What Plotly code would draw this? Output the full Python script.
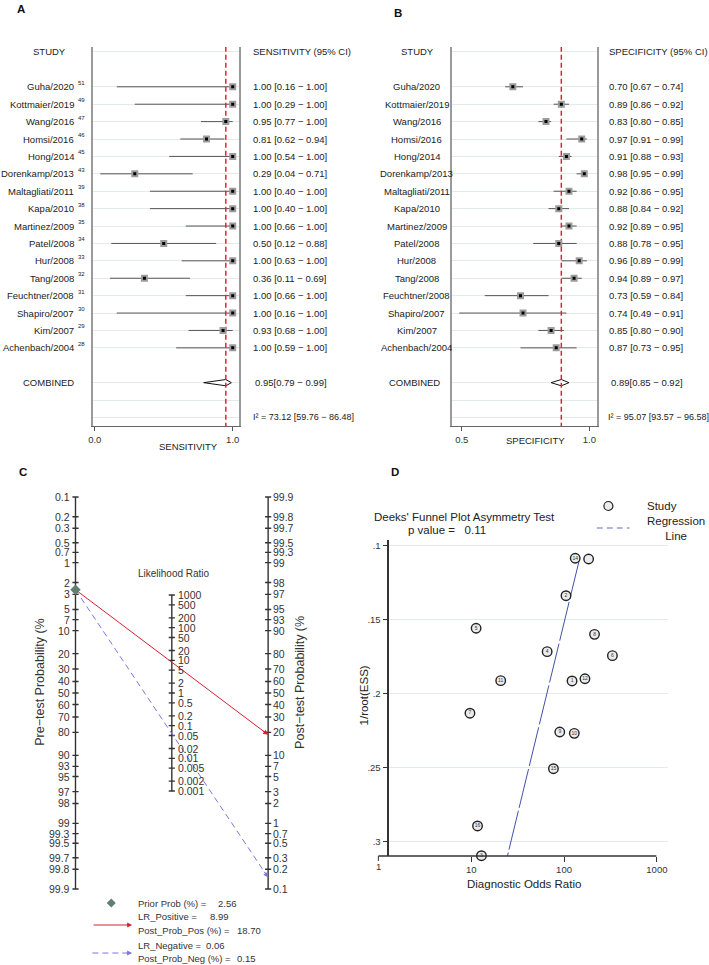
import math
import plotly.graph_objects as go

W, H = 709, 965
FONT = "Liberation Sans, Arial, Helvetica, sans-serif"

# ---------------- data ----------------
studies = ["Guha/2020", "Kottmaier/2019", "Wang/2016", "Homsi/2016", "Hong/2014",
           "Dorenkamp/2013", "Maltagliati/2011", "Kapa/2010", "Martinez/2009", "Patel/2008",
           "Hur/2008", "Tang/2008", "Feuchtner/2008", "Shapiro/2007", "Kim/2007", "Achenbach/2004"]
refs = ["51", "49", "47", "46", "45", "43", "39", "38", "35", "34", "33", "32", "31", "30", "29", "28"]

sens = [1.00, 1.00, 0.95, 0.81, 1.00, 0.29, 1.00, 1.00, 1.00, 0.50, 1.00, 0.36, 1.00, 1.00, 0.93, 1.00]
sens_lo = [0.16, 0.29, 0.77, 0.62, 0.54, 0.04, 0.40, 0.40, 0.66, 0.12, 0.63, 0.11, 0.66, 0.16, 0.68, 0.59]
sens_hi = [1.00, 1.00, 1.00, 0.94, 1.00, 0.71, 1.00, 1.00, 1.00, 0.88, 1.00, 0.69, 1.00, 1.00, 1.00, 1.00]

spec = [0.70, 0.89, 0.83, 0.97, 0.91, 0.98, 0.92, 0.88, 0.92, 0.88, 0.96, 0.94, 0.73, 0.74, 0.85, 0.87]
spec_lo = [0.67, 0.86, 0.80, 0.91, 0.88, 0.95, 0.86, 0.84, 0.89, 0.78, 0.89, 0.89, 0.59, 0.49, 0.80, 0.73]
spec_hi = [0.74, 0.92, 0.85, 0.99, 0.93, 0.99, 0.95, 0.92, 0.95, 0.95, 0.99, 0.97, 0.84, 0.91, 0.90, 0.95]

sens_pooled = [0.95, 0.79, 0.99]
spec_pooled = [0.89, 0.85, 0.92]
sens_i2 = [73.12, 59.76, 86.48]
spec_i2 = [95.07, 93.57, 96.58]

# Fagan nomogram
prior_prob = 2.56
lr_pos = 8.99
lr_neg = 0.06
post_pos = 18.70
post_neg = 0.15
prob_ticks = [0.1, 0.2, 0.3, 0.5, 0.7, 1, 2, 3, 5, 7, 10, 20, 30, 40, 50, 60, 70, 80,
              90, 93, 95, 97, 98, 99, 99.3, 99.5, 99.7, 99.8, 99.9]
lr_ticks = [1000, 500, 200, 100, 50, 20, 10, 5, 2, 1, 0.5, 0.2, 0.1, 0.05, 0.02, 0.01,
            0.005, 0.002, 0.001]

# Deeks funnel plot
deeks_labels = ["14", "", "2", "5", "8", "4", "6", "11", "1", "12", "7", "9", "10", "15", "16", "3"]
deeks_dor = [132, 184, 105, 11.3, 213, 65.8, 332, 20.8, 122, 168, 9.7, 90, 129, 76.9, 11.7, 12.9]
deeks_ess = [0.1083, 0.1088, 0.1336, 0.1556, 0.1597, 0.1714, 0.1741, 0.1910, 0.1912, 0.1897,
             0.2130, 0.2257, 0.2266, 0.2505, 0.2892, 0.3093]
reg_dor = [146, 24.6]
reg_ess = [0.1095, 0.3093]
deeks_p = 0.11
deeks_xticks = [10, 100, 1000]
deeks_yticks = [0.1, 0.15, 0.2, 0.25, 0.3]
deeks_yticktext = [".1", ".15", ".2", ".25", ".3"]


def X(p):
    return p / W


def Y(p):
    return 1 - p / H


fig = go.Figure()
annotations = []
shapes = []
FS = 9.5


def add_text(x, y, text, size=FS, xanchor="left", yanchor="middle", xref="paper", yref="paper",
             color="#222", angle=0, yshift=0):
    annotations.append(dict(x=x, y=y, xref=xref, yref=yref, text=text, showarrow=False,
                            xanchor=xanchor, yanchor=yanchor, textangle=angle, yshift=yshift,
                            font=dict(family=FONT, size=size, color=color)))


# ---------------- forest plots (A, B) ----------------
ROW0 = 2
COMB_ROW = 19
I2_ROW = 21
grid_rows = [0] + list(range(2, 18)) + [19, 20, 21]


def forest(xa, ya, est, lo, hi, pooled):
    rows = list(range(ROW0, ROW0 + len(est)))
    cx, cy = [], []
    for l, h, r in zip(lo, hi, rows):
        cx += [l, h, None]
        cy += [r, r, None]
    fig.add_trace(go.Scatter(x=cx, y=cy, mode="lines", line=dict(color="#555", width=1),
                             xaxis=xa, yaxis=ya, hoverinfo="skip"))
    e, l, h = pooled
    fig.add_trace(go.Scatter(x=[l, e, h, e, l], y=[COMB_ROW, COMB_ROW - 0.18, COMB_ROW, COMB_ROW + 0.18, COMB_ROW],
                             mode="lines", fill="toself", fillcolor="white",
                             line=dict(color="#111", width=1), xaxis=xa, yaxis=ya, hoverinfo="skip"))
    fig.add_trace(go.Scatter(x=[e, e], y=[-0.3, 21.5], mode="lines",
                             line=dict(color="#e3232c", width=1.5, dash="5px,3px"),
                             xaxis=xa, yaxis=ya, hoverinfo="skip"))
    fig.add_trace(go.Scatter(x=est, y=rows, mode="markers",
                             marker=dict(symbol="square", size=7, color="#9c9c9c"),
                             xaxis=xa, yaxis=ya, hoverinfo="skip"))
    fig.add_trace(go.Scatter(x=est, y=rows, mode="markers",
                             marker=dict(symbol="square", size=3, color="#000"),
                             xaxis=xa, yaxis=ya, hoverinfo="skip"))


forest("x", "y", sens, sens_lo, sens_hi, sens_pooled)
forest("x2", "y2", spec, spec_lo, spec_hi, spec_pooled)


def ci_text(v, l, h, sep=" "):
    return f"{v:.2f}{sep}[{l:.2f} \u2212 {h:.2f}]"


# Panel A text
add_text(X(45), 0, "STUDY", xanchor="center", yref="y")
add_text(X(248), 0, "SENSITIVITY (95% CI)", yref="y")
for i, (name, ref) in enumerate(zip(studies, refs)):
    r = ROW0 + i
    add_text(X(71.5), r, name, xanchor="right", yref="y")
    add_text(X(72), r, ref, size=6, xanchor="left", yref="y", yshift=4)
    add_text(X(248), r, ci_text(sens[i], sens_lo[i], sens_hi[i]), yref="y")
add_text(X(44), COMB_ROW, "COMBINED", xanchor="center", yref="y")
add_text(X(250), COMB_ROW, ci_text(*sens_pooled, sep=""), yref="y")
add_text(X(248), I2_ROW, f"I\u00b2 = {sens_i2[0]:.2f} [{sens_i2[1]:.2f} \u2212 {sens_i2[2]:.2f}]",
         size=9, yref="y")
add_text(X(185), Y(446), "SENSITIVITY", xanchor="center")

# Panel B text
add_text(X(415), 0, "STUDY", xanchor="center", yref="y2")
add_text(X(606), 0, "SPECIFICITY (95% CI)", yref="y2")
for i, name in enumerate(studies):
    r = ROW0 + i
    add_text(X(414.5), r, name, xanchor="center", yref="y2")
    add_text(X(606), r, ci_text(spec[i], spec_lo[i], spec_hi[i]), yref="y2")
add_text(X(412), COMB_ROW, "COMBINED", xanchor="center", yref="y2")
add_text(X(608.5), COMB_ROW, ci_text(*spec_pooled, sep=""), yref="y2")
add_text(X(605), I2_ROW, f"I\u00b2 = {spec_i2[0]:.2f} [{spec_i2[1]:.2f} \u2212 {spec_i2[2]:.2f}]",
         size=9, yref="y2")
add_text(X(534), Y(440), "SPECIFICITY", xanchor="center")

# ---------------- Fagan nomogram (C) ----------------
def logit(pct):
    return math.log(pct / (100 - pct))


pre_y = [-logit(v) for v in prob_ticks]
post_y = [logit(v) for v in prob_ticks]
lr_y = [math.log(v) / 2 for v in lr_ticks]
t = 0.032
ax_x, ax_y = [], []
ax_x += [0, 0, None, 1, 1, None, 2, 2, None]
ax_y += [max(pre_y), min(pre_y), None, max(lr_y), min(lr_y), None, max(post_y), min(post_y), None]
for yy in pre_y:
    ax_x += [-t, t, None]
    ax_y += [yy, yy, None]
for yy in lr_y:
    ax_x += [1 - t, 1 + t, None]
    ax_y += [yy, yy, None]
for yy in post_y:
    ax_x += [2 - t, 2 + t, None]
    ax_y += [yy, yy, None]
fig.add_trace(go.Scatter(x=ax_x, y=ax_y, mode="lines", line=dict(color="#333", width=1.4),
                         xaxis="x3", yaxis="y3", hoverinfo="skip"))

y_prior = -logit(prior_prob)
y_pos = logit(post_pos)
y_neg = logit(post_neg)
fig.add_trace(go.Scatter(x=[0, 2], y=[y_prior, y_pos], mode="lines",
                         line=dict(color="#d42030", width=1), xaxis="x3", yaxis="y3", hoverinfo="skip"))
fig.add_trace(go.Scatter(x=[0, 2], y=[y_prior, y_neg], mode="lines",
                         line=dict(color="#7b78d8", width=1, dash="6px,4px"), xaxis="x3", yaxis="y3",
                         hoverinfo="skip"))
fig.add_trace(go.Scatter(x=[0], y=[y_prior], mode="markers",
                         marker=dict(symbol="diamond", size=8, color="#5f8070"),
                         xaxis="x3", yaxis="y3", hoverinfo="skip", cliponaxis=False))

for frac, yend, col in [(0.96, y_pos, "#d42030"), (0.975, y_neg, "#7b78d8")]:
    annotations.append(dict(x=2, y=yend, xref="x3", yref="y3", ax=2 * frac,
                            ay=y_prior + (yend - y_prior) * frac, axref="x3", ayref="y3",
                            showarrow=True, arrowhead=2, arrowsize=1, arrowwidth=1,
                            arrowcolor=col, text=""))

for v, yy in zip(prob_ticks, pre_y):
    add_text(-0.035, yy, f"{v:g}", size=10.5, xanchor="right", xref="x3", yref="y3", color="#333")
for v, yy in zip(prob_ticks, post_y):
    add_text(2.03, yy, f"{v:g}", size=10.5, xanchor="left", xref="x3", yref="y3", color="#333")
for v, yy in zip(lr_ticks, lr_y):
    add_text(1.04, yy, f"{v:g}", size=10.5, xanchor="left", xref="x3", yref="y3", color="#333")

add_text(X(170), Y(573), "Likelihood Ratio", size=10, xanchor="center", color="#333")
add_text(X(35), Y(682), "Pre\u2212test Probability (%", size=12.5, xanchor="center", angle=-90, color="#333")
add_text(X(297), Y(682), "Post\u2212test Probability (%", size=12.5, xanchor="center", angle=-90, color="#333")

# legend of C
shapes.append(dict(type="path", xref="paper", yref="paper", xsizemode="pixel", ysizemode="pixel",
                   xanchor=X(107), yanchor=Y(903), path="M 0 4.5 L 4.5 0 L 0 -4.5 L -4.5 0 Z",
                   fillcolor="#5f8070", line=dict(width=0)))
leg_rows = [(903, "Prior Prob (%) =", prior_prob, 213, "{:.2f}"),
            (916, "LR_Positive =", lr_pos, 204, "{:.2f}"),
            (930, "Post_Prob_Pos (%) =", post_pos, 232, "{:.2f}"),
            (945, "LR_Negative =", lr_neg, 200, "{:.2f}"),
            (958, "Post_Prob_Neg (%) =", post_neg, 232, "{:.2f}")]
for yy, lab, val, vx, fmt in leg_rows:
    add_text(X(132), Y(yy), lab, size=9.5, color="#333")
    add_text(X(vx), Y(yy), fmt.format(val), size=9.5, color="#333")
annotations.append(dict(x=X(128), y=Y(925), ax=-40, ay=0, xref="paper", yref="paper",
                        showarrow=True, arrowhead=2, arrowsize=1,
                        arrowwidth=1, arrowcolor="#d42030", text=""))
shapes.append(dict(type="line", xref="paper", yref="paper", x0=X(88), x1=X(124), y0=Y(953), y1=Y(953),
                   line=dict(color="#7b78d8", width=1, dash="6px,4px")))
annotations.append(dict(x=X(128), y=Y(953), ax=-7, ay=0, xref="paper", yref="paper",
                        showarrow=True, arrowhead=2, arrowsize=1, arrowwidth=1,
                        arrowcolor="#7b78d8", text=""))

# ---------------- Deeks funnel (D) ----------------
fig.add_trace(go.Scatter(x=reg_dor, y=reg_ess, mode="lines",
                         line=dict(color="#4352a6", width=1, dash="40px,3px"),
                         xaxis="x4", yaxis="y4", hoverinfo="skip"))
fig.add_trace(go.Scatter(x=deeks_dor, y=deeks_ess, mode="markers+text", text=deeks_labels,
                         textposition="middle center", textfont=dict(family=FONT, size=5, color="#333"),
                         marker=dict(symbol="circle", size=9.5, color="#ececec", line=dict(color="#222", width=1.4)),
                         xaxis="x4", yaxis="y4", hoverinfo="skip", cliponaxis=False))

# x-axis line (1 to 1000) and tick at 1
shapes.append(dict(type="line", xref="paper", yref="paper", x0=X(376), x1=X(656), y0=Y(856), y1=Y(856),
                   line=dict(color="#333", width=1.3)))
shapes.append(dict(type="line", xref="paper", yref="paper", x0=X(376), x1=X(376), y0=Y(856), y1=Y(861),
                   line=dict(color="#333", width=1)))
add_text(X(376), Y(866), "1", size=9.5, xanchor="center", color="#333")

add_text(X(463), Y(517), "Deeks' Funnel Plot Asymmetry Test", size=11.5, xanchor="center", color="#222")
add_text(X(404), Y(530), "p value =\u00a0\u00a0 " + f"{deeks_p:.2f}", size=11.5, color="#222")
add_text(X(523), Y(884), "Diagnostic Odds Ratio", size=11.5, xanchor="center", color="#222")
add_text(X(362), Y(695), "1/root(ESS)", size=11.5, xanchor="center", angle=-90, color="#222")

# legend D
shapes.append(dict(type="circle", xref="paper", yref="paper", xsizemode="pixel", ysizemode="pixel",
                   xanchor=X(607.7), yanchor=Y(506), x0=-4.5, x1=4.5, y0=-4.5, y1=4.5,
                   fillcolor="#ececec", line=dict(color="#222", width=1.2)))
add_text(X(645), Y(506), "Study", size=11.5, color="#222")
shapes.append(dict(type="line", xref="paper", yref="paper", x0=X(596), x1=X(629), y0=Y(528), y1=Y(528),
                   line=dict(color="#6070c0", width=1.2, dash="6px,4px")))
add_text(X(645), Y(528.5), "Regression<br>Line", size=11.5, color="#222")

# panel letters
for lx, ly, L in [(16, 9, "A"), (395.5, 13, "B"), (18, 472, "C"), (393, 472, "D")]:
    annotations.append(dict(x=X(lx), y=Y(ly), xref="paper", yref="paper", text=f"<b>{L}</b>",
                            showarrow=False, xanchor="center", yanchor="middle",
                            font=dict(family=FONT, size=11.5, color="#111")))

# ---------------- layout ----------------
forest_y = dict(domain=[Y(426), Y(47)], range=[21.49, -0.287], tickvals=grid_rows,
                showticklabels=False, ticks="", showgrid=True, gridcolor="#e2eaea", gridwidth=1,
                showline=True, mirror=True, linecolor="#9a9a9a", linewidth=1.8, zeroline=False)
forest_x = dict(ticks="outside", ticklen=4, tickcolor="#555", showline=True, linecolor="#666",
                linewidth=1.3, showgrid=False, zeroline=False,
                tickfont=dict(family=FONT, size=9.5, color="#333"))

fig.update_layout(
    width=W, height=H, margin=dict(l=0, r=0, t=0, b=0),
    paper_bgcolor="white", plot_bgcolor="rgba(0,0,0,0)", showlegend=False,
    font=dict(family=FONT),
    xaxis=dict(domain=[X(89), X(236)], range=[-0.01, 1.048], tickvals=[0, 1],
               ticktext=["0.0", "1.0"], anchor="y", **forest_x),
    yaxis=dict(anchor="x", **forest_y),
    xaxis2=dict(domain=[X(450), X(596)], range=[0.461, 1.029], tickvals=[0.5, 1.0],
                ticktext=["0.5", "1.0"], anchor="y2", **forest_x),
    yaxis2=dict(anchor="x2", **forest_y),
    xaxis3=dict(domain=[X(41.9), X(294.1)], range=[-0.3, 2.3], visible=False, anchor="y3"),
    yaxis3=dict(domain=[Y(897.3), Y(488.7)], range=[-7.2, 7.2], visible=False, anchor="x3"),
    xaxis4=dict(domain=[X(387), X(668)], type="log", range=[0.1176, 3.123], tickvals=deeks_xticks,
                ticktext=[str(v) for v in deeks_xticks], ticks="outside", ticklen=5, tickcolor="#333",
                showline=False, showgrid=False, zeroline=False, anchor="y4",
                tickfont=dict(family=FONT, size=9.5, color="#333")),
    yaxis4=dict(domain=[Y(856), Y(540)], range=[0.3095, 0.09595], tickvals=deeks_yticks,
                ticktext=deeks_yticktext, ticks="outside", ticklen=5, tickcolor="#333",
                showline=True, linecolor="#333", linewidth=1.5, showgrid=True, gridcolor="#e2eaea",
                zeroline=False, anchor="x4", tickfont=dict(family=FONT, size=9.5, color="#333")),
    annotations=annotations, shapes=shapes,
)

fig.write_html("out.html", config={"displayModeBar": False},
               post_script="document.body.style.margin='0';document.body.style.padding='0';"
                           "document.documentElement.style.overflow='hidden';")
